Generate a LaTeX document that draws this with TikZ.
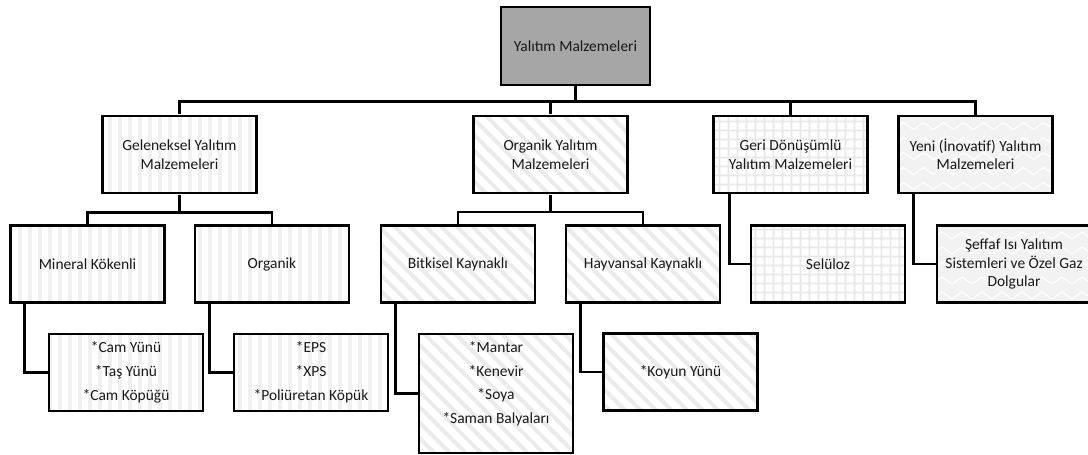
\documentclass[tikz,border=0pt]{standalone}
\usepackage{fontspec}
\setmainfont{Carlito}
\usetikzlibrary{patterns.meta, decorations.pathmorphing}

\begin{document}
\begin{tikzpicture}[x=0.02cm, y=-0.02cm,
    kutu/.style={draw, line width=1.6pt, text=black!90, minimum width=3.08cm,
      minimum height=1.54cm, inner sep=0pt, align=center,
      font=\fontsize{8.8}{10.5}\selectfont},
    conn/.style={line width=1.6pt},
    kokFill/.style={fill=gray!70},
    gelFill/.style={preaction={fill=white}, pattern={Lines[angle=90, distance=0.2cm, line width=0.09cm]}, pattern color=gray!12},
    orgFill/.style={preaction={fill=white}, pattern={Lines[angle=-45, distance=0.22cm, line width=0.08cm]}, pattern color=gray!16},
    geriFill/.style={preaction={fill=white}, pattern={Hatch[angle=0, distance=0.18cm, line width=0.035cm]}, pattern color=gray!18},
    yeniFill/.style={fill=gray!10, path picture={
      \foreach \r in {0,...,8}
        \draw[white, line width=0.7pt, decorate, decoration={zigzag, segment length=0.4cm, amplitude=0.07cm}]
          ([yshift=0.1cm-\r*0.3cm]path picture bounding box.north west) -- ([yshift=0.1cm-\r*0.3cm]path picture bounding box.north east);}}]
  \useasboundingbox (0,0) rectangle (1088,454);

  % top
  \node[kutu, kokFill, minimum width=2.98cm, minimum height=1.56cm] (root) at (575.5,46) {Yalıtım Malzemeleri};

  % level 1
  \node[kutu, gelFill]  (gel)  at (179.5,154.5) {Geleneksel Yalıtım\\Malzemeleri};
  \node[kutu, orgFill]  (org)  at (550.5,154.5) {Organik Yalıtım\\Malzemeleri};
  \node[kutu, geriFill] (geri) at (790.5,154.5) {Geri Dönüşümlü\\Yalıtım Malzemeleri};
  \node[kutu, yeniFill] (yeni) at (975.5,154.5) {Yeni (İnovatif) Yalıtım\\Malzemeleri};

  % level 2
  \node[kutu, gelFill]  (mineral) at (87.5,264) {Mineral Kökenli};
  \node[kutu, gelFill]  (organik) at (272,264) {Organik};
  \node[kutu, orgFill]  (bitki)   at (458,264) {Bitkisel Kaynaklı};
  \node[kutu, orgFill]  (hayvan)  at (643,264) {Hayvansal Kaynaklı};
  \node[kutu, geriFill] (selu)    at (828,264) {Selüloz};
  \node[kutu, yeniFill] (seffaf)  at (1014,264) {Şeffaf Isı Yalıtım\\Sistemleri ve Özel Gaz\\Dolgular};

  % level 3
  \node[kutu, gelFill] (camlist) at (126,372.5) {*Cam Yünü\\[3.1pt]*Taş Yünü\\[3.1pt]*Cam Köpüğü};
  \node[kutu, gelFill] (epslist) at (311,372.5) {*EPS\\[3.1pt]*XPS\\[3.1pt]*Poliüretan Köpük};
  \node[kutu, orgFill, minimum height=2.38cm] (mantarlist) at (496,393.5)
    {*Mantar\\[3.1pt]*Kenevir\\[3.1pt]*Soya\\[3.1pt]*Saman Balyaları\\[2pt]\mbox{}};
  \node[kutu, orgFill] (koyunlist) at (680.5,372) {*Koyun Yünü};

  % connectors
  \foreach \n in {gel,org,geri,yeni}
    \draw[conn] (root.south) -- ++(0,15) -| (\n.north);
  \foreach \n in {mineral,organik}
    \draw[conn] (gel.south) -- ++(0,17) -| (\n.north);
  \foreach \n in {bitki,hayvan}
    \draw[conn] (org.south) -- ++(0,17) -| (\n.north);
  \draw[conn] ([xshift=0.34cm]geri.south west) |- (selu.west);
  \draw[conn] ([xshift=0.32cm]yeni.south west) |- (seffaf.west);
  \draw[conn] ([xshift=0.3cm]mineral.south west) |- (camlist.west);
  \draw[conn] ([xshift=0.32cm]organik.south west) |- (epslist.west);
  \draw[conn] ([xshift=0.32cm]bitki.south west) |- (mantarlist.west);
  \draw[conn] ([xshift=0.32cm]hayvan.south west) |- (koyunlist.west);
\end{tikzpicture}
\end{document}
